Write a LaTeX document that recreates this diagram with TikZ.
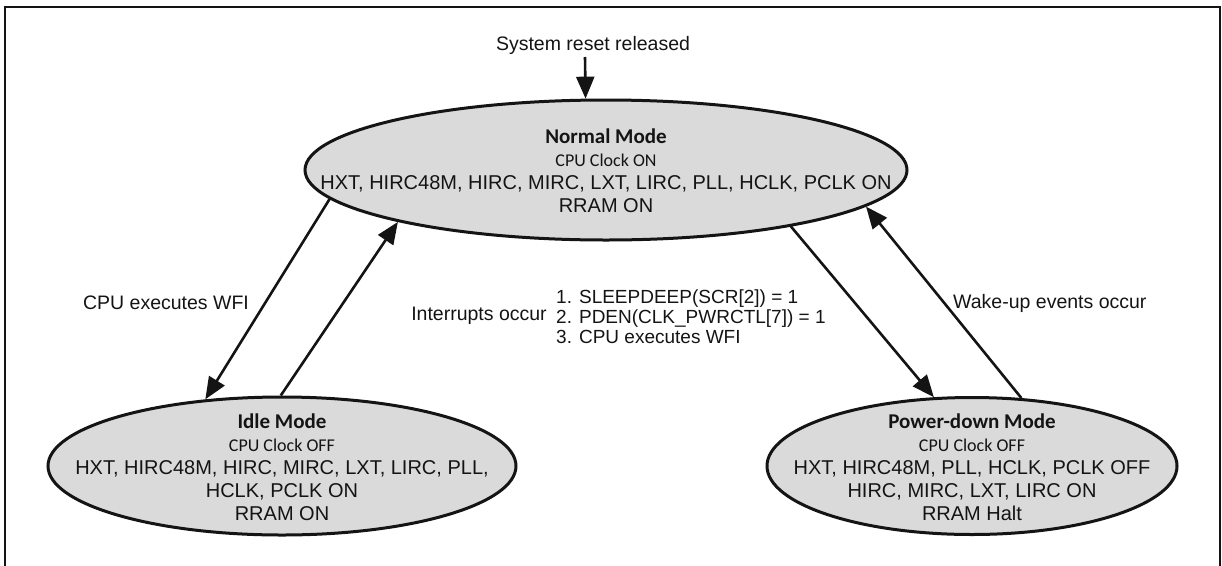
\documentclass[tikz,border=0pt]{standalone}
\usepackage{fontspec}
\setmainfont{Liberation Sans}
\newfontfamily\carl{Carlito}
\usetikzlibrary{shapes.geometric,arrows.meta}
\definecolor{stategray}{RGB}{218,218,218}
\definecolor{ink}{RGB}{20,20,20}
\begin{document}
\begin{tikzpicture}[x=1pt,y=-1pt,
  state/.style={ellipse, draw=ink, line width=3pt, fill=stategray, inner sep=0pt},
  arr/.style={draw=ink, line width=2.6pt, -{Triangle[length=22pt,width=18pt]}},
  lbl/.style={font=\fontsize{19.5}{22}\selectfont, inner sep=0pt, text=ink},
  body/.style={align=center, font=\fontsize{20}{23}\selectfont, inner sep=0pt, text=ink}]
\useasboundingbox (0,0) rectangle (1222,565);
% frame
\draw[line width=2.6pt, draw=ink] (5,575) -- (5,7) -- (1220,7) -- (1220,575);
% states
\node[state, minimum width=602pt, minimum height=140pt] (normal) at (606,170) {};
\node[state, minimum width=468pt, minimum height=138pt] (idle) at (282,466) {};
\node[state, minimum width=410pt, minimum height=137pt] (pd) at (972,466) {};
% state texts
\node[body] (normaltext) at (606,171) {{\carl\bfseries\fontsize{21}{23}\selectfont Normal Mode}\\{\carl\fontsize{18}{23}\selectfont CPU Clock ON}\\HXT, HIRC48M, HIRC, MIRC, LXT, LIRC, PLL, HCLK, PCLK ON\\RRAM ON};
\node[body] (idletext) at (282,467) {{\carl\bfseries\fontsize{21}{23}\selectfont Idle Mode}\\{\carl\fontsize{18}{23}\selectfont CPU Clock OFF}\\HXT, HIRC48M, HIRC, MIRC, LXT, LIRC, PLL,\\HCLK, PCLK ON\\RRAM ON};
\node[body] (pdtext) at (972,467) {{\carl\bfseries\fontsize{21}{23}\selectfont Power-down Mode}\\{\carl\fontsize{18}{23}\selectfont CPU Clock OFF}\\HXT, HIRC48M, PLL, HCLK, PCLK OFF\\HIRC, MIRC, LXT, LIRC ON\\RRAM Halt};
% labels
\node[lbl] (reset) at (593,45) {System reset released};
\coordinate (r0) at (585,57);
\node[lbl] (wfi) at (166,303) {CPU executes WFI};
\node[lbl] (irq) at (479,316) {Interrupts occur};
\node[lbl, anchor=west, align=left, font=\fontsize{19}{20}\selectfont] (steps) at (556,317) {1. SLEEPDEEP(SCR[2]) = 1\\2. PDEN(CLK\_PWRCTL[7]) = 1\\3. CPU executes WFI};
\node[lbl, anchor=west] (wake) at (953,303) {Wake-up events occur};
% connectors
\draw[arr] (r0) -- (normal.106.7);
\draw[arr] (normal.186.3) -- (idle.139.3);
\draw[arr] (idle.91.6) -- (normal.194.2);
\draw[arr] (normal.343.2) -- (pd.119.8);
\draw[arr] (pd.54.8) -- (normal.352.4);
\end{tikzpicture}
\end{document}
